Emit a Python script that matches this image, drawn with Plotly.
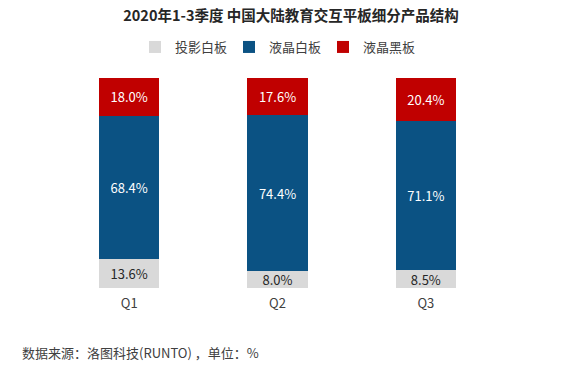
import plotly.graph_objects as go

categories = ["Q1", "Q2", "Q3"]
projector_white = [13.6, 8.0, 8.5]
lcd_white = [68.4, 74.4, 71.1]
lcd_black = [18.0, 17.6, 20.4]
series_names = ["投影白板", "液晶白板", "液晶黑板"]

FONT = "Noto Sans CJK SC, Microsoft YaHei, sans-serif"
colors = ["#d9d9d9", "#0b5283", "#c00000"]
text_colors = ["#262626", "#ffffff", "#ffffff"]

fig = go.Figure()
for name, vals, c, tc in zip(series_names, [projector_white, lcd_white, lcd_black], colors, text_colors):
    fig.add_trace(go.Bar(
        x=categories, y=vals, name=name,
        marker=dict(color=c, line=dict(width=0)),
        text=[f"{v:.1f}%" for v in vals],
        textposition="inside", insidetextanchor="middle",
        textfont=dict(color=tc, size=13, family=FONT),
        width=0.405,
    ))

fig.update_layout(
    barmode="stack",
    width=574, height=375,
    margin=dict(l=55, r=74, t=78, b=87, autoexpand=False),
    paper_bgcolor="white", plot_bgcolor="white",
    uniformtext=dict(minsize=13, mode="show"),
    title=dict(text="<b>2020年1-3季度 中国大陆教育交互平板细分产品结构</b>",
               x=291 / 574, xanchor="center", xref="container", y=1 - 16 / 375, yanchor="middle",
               font=dict(size=14.5, color="#262626", family=FONT)),
    legend=dict(orientation="h", x=276 / 574, xanchor="center", xref="container",
                y=1 - 47 / 375, yanchor="middle", yref="container",
                traceorder="normal", entrywidth=49, itemwidth=30,
                font=dict(size=13, color="#404040", family=FONT),
                bgcolor="rgba(0,0,0,0)"),
    xaxis=dict(showline=False, showgrid=False, zeroline=False, ticks="",
               ticklabelstandoff=6,
               tickfont=dict(size=13, color="#404040", family=FONT), range=[-0.5, 2.5]),
    yaxis=dict(visible=False, range=[0, 100]),
    font=dict(family=FONT),
)

fig.add_annotation(text="数据来源：洛图科技(RUNTO) ，单位：%",
                   xref="paper", x=(20 - 55) / 445, yref="paper", y=(288 - 352) / 210,
                   xanchor="left", yanchor="middle", showarrow=False,
                   font=dict(size=13, color="#404040", family=FONT))

fig.write_html("out.html", config={"displayModeBar": False},
               post_script="document.body.style.margin='0';")
